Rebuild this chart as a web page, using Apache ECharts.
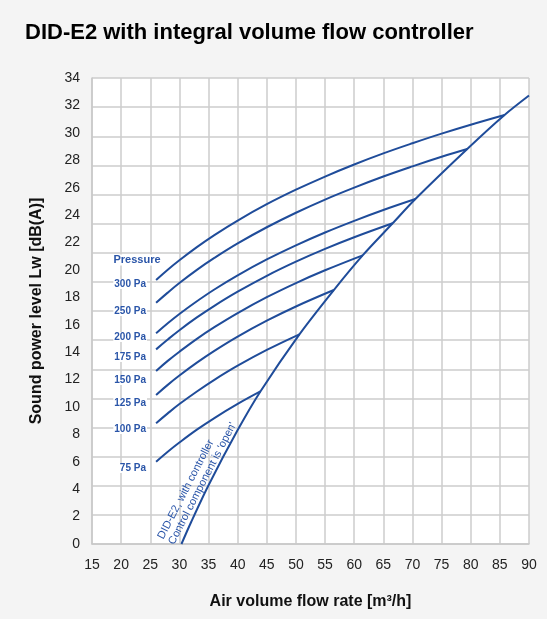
<!DOCTYPE html>
<html>
<head>
<meta charset="utf-8">
<script src="https://cdn.jsdelivr.net/npm/echarts@6/dist/echarts.min.js"></script>
<style>
html,body{margin:0;padding:0;background:#f4f4f4;}
#chart{width:547px;height:619px;}
</style>
</head>
<body>
<div id="chart"></div>
<script>
// Sound power level curves [flow m3/h, Lw dB(A)] per pressure
const p300 = [[26,19.26],[28,20.01],[30,20.70],[33,21.66],[36,22.54],[40,23.60],[45,24.79],[50,25.85],[55,26.81],[60,27.69],[65,28.50],[70,29.24],[75,29.94],[80,30.59],[85.8,31.3]];
const p250 = [[26,17.60],[28,18.34],[30,19.04],[33,20.00],[36,20.87],[40,21.93],[45,23.11],[50,24.17],[55,25.13],[60,26.00],[65,26.81],[70,27.55],[75,28.25],[79.4,28.82]];
const p200 = [[26,15.37],[28,16.10],[30,16.78],[33,17.71],[36,18.57],[40,19.60],[45,20.76],[50,21.79],[55,22.73],[60,23.58],[65,24.37],[70.5,25.17]];
const p175 = [[26,14.20],[28,14.92],[30,15.60],[33,16.53],[36,17.38],[40,18.41],[45,19.57],[50,20.60],[55,21.53],[60,22.38],[66.6,23.4]];
const p150 = [[26,12.63],[28,13.36],[30,14.03],[33,14.97],[36,15.82],[40,16.85],[45,18.01],[50,19.04],[55,19.97],[61.45,21.06]];
const p125 = [[26,10.88],[28,11.61],[30,12.29],[33,13.23],[36,14.09],[40,15.13],[45,16.29],[50,17.33],[56.5,18.53]];
const p100 = [[26,8.81],[28,9.53],[30,10.21],[33,11.13],[36,11.98],[40,13.01],[45,14.16],[50.6,15.3]];
const p75  = [[26,6.00],[28,6.73],[30,7.40],[33,8.34],[36,9.19],[40,10.22],[43.9,11.13]];
// Controller open line
const openLine = [[30.35,0],[32,1.59],[35,4.29],[40,8.31],[43.9,11.13],[50.6,15.3],[56.5,18.53],[61.45,21.06],[66.6,23.4],[70.5,25.17],[79.4,28.82],[85.8,31.3],[90,32.72]];
const pressureLabels = ['300 Pa','250 Pa','200 Pa','175 Pa','150 Pa','125 Pa','100 Pa','75 Pa'];
const labelY = [284,311,337,357,380,403,429,468];

const blue = '#1f4c9a';
const chart = echarts.init(document.getElementById('chart'));
const curves = [p300,p250,p200,p175,p150,p125,p100,p75];
const series = curves.map(d => ({
  type:'line', data:d, smooth:0.4, showSymbol:false, symbol:'none',
  lineStyle:{color:blue,width:2}, z:3, silent:true
}));
series.push({type:'line', data:openLine, smooth:0.3, showSymbol:false, symbol:'none',
  lineStyle:{color:blue,width:2}, z:3, silent:true});

const graphics = [
  {type:'text', x:137, y:260, z:10, style:{text:'Pressure', fill:'#2a55a8', font:'bold 11px "Liberation Sans", Arial, sans-serif', align:'center', verticalAlign:'middle', backgroundColor:'#fff', padding:[0,1]}},
  {type:'text', x:166, y:541, rotation:1.094, z:10, style:{text:"DID-E2, with controller\nControl component is 'open'", fill:'#2a55a8', font:'11px "Liberation Sans", Arial, sans-serif', align:'left', verticalAlign:'middle', lineHeight:12}}
];
pressureLabels.forEach((t,i)=>{
  graphics.push({type:'text', x:147, y:labelY[i], z:10, style:{text:t, fill:'#2a55a8', font:'bold 10px "Liberation Sans", Arial, sans-serif', align:'right', verticalAlign:'middle', backgroundColor:'#fff', padding:[0,1]}});
});

chart.setOption({
  backgroundColor:'#f4f4f4',
  animation:false,
  title:{text:'DID-E2 with integral volume flow controller', left:20, top:17,
    textStyle:{fontSize:22, fontWeight:'bold', color:'#000', fontFamily:'"Liberation Sans", Arial, sans-serif'}},
  grid:{left:92, right:18, top:78, bottom:75, show:true, backgroundColor:'#fff', borderWidth:0},
  xAxis:{type:'value', min:15, max:90, interval:5,
    name:'Air volume flow rate [m³/h]', nameLocation:'middle', nameGap:50,
    nameTextStyle:{fontSize:16, fontWeight:'bold', color:'#111', fontFamily:'"Liberation Sans", Arial, sans-serif'},
    axisLine:{show:true, lineStyle:{color:'#c8c8c8', width:1.5}}, axisTick:{show:false},
    axisLabel:{fontSize:14, color:'#222', margin:14, fontFamily:'"Liberation Sans", Arial, sans-serif'},
    splitLine:{show:true, lineStyle:{color:'#cccccc', width:1.5}}},
  yAxis:[
    {type:'value', min:0, max:34, interval:2,
      name:'Sound power level Lw [dB(A)]', nameLocation:'middle', nameGap:47,
      nameTextStyle:{fontSize:16, fontWeight:'bold', color:'#111', fontFamily:'"Liberation Sans", Arial, sans-serif'},
      axisLine:{show:true, lineStyle:{color:'#c8c8c8', width:1.5}}, axisTick:{show:false},
      axisLabel:{fontSize:14, color:'#222', margin:12, fontFamily:'"Liberation Sans", Arial, sans-serif'},
      splitLine:{show:false}},
    {type:'value', min:0, max:16, interval:1, position:'left', offset:0,
      axisLine:{show:false}, axisTick:{show:false}, axisLabel:{show:false},
      splitLine:{show:true, lineStyle:{color:'#cccccc', width:1.5}}}
  ],
  graphic:graphics,
  series:series
});
</script>
</body>
</html>
